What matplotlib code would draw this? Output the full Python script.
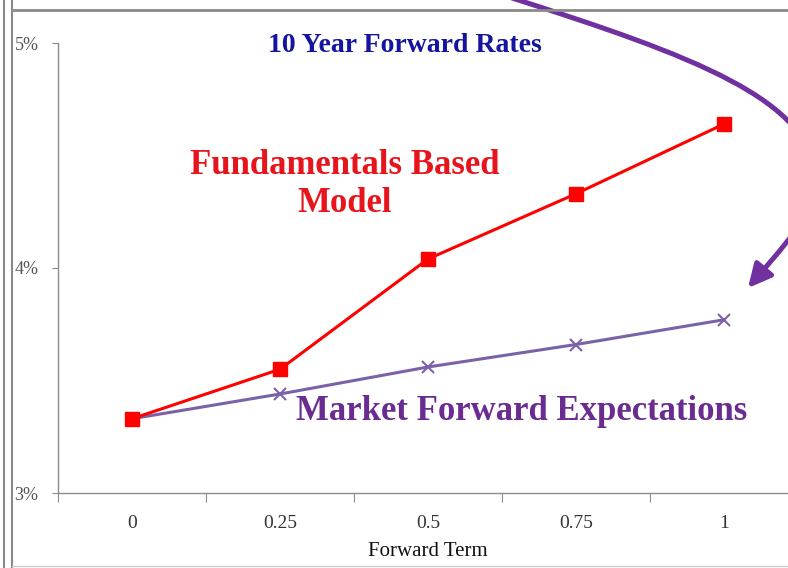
import matplotlib
matplotlib.use('Agg')
import matplotlib.pyplot as plt
from matplotlib.patches import FancyArrowPatch
from matplotlib.path import Path

terms = ['0', '0.25', '0.5', '0.75', '1']
fundamentals = [3.33, 3.55, 4.04, 4.33, 4.64]
market = [3.33, 3.44, 3.56, 3.66, 3.77]
y_ticks = [3, 4, 5]
y_labels = ['3%', '4%', '5%']

W, H = 788, 568
plt.rcParams['font.family'] = ['Liberation Serif', 'DejaVu Serif']

fig = plt.figure(figsize=(W / 100, H / 100), dpi=100)

# main plot area (extends a little past the right edge, like the cropped original)
ax = fig.add_axes([58 / W, 75 / H, 740 / W, 450 / H])
x = range(len(terms))
ax.plot(x, fundamentals, color='#ff0000', lw=2.2, marker='s', ms=9.5, zorder=4)
ax.plot(x, market, color='#7b62a8', lw=2.2, marker='x', ms=9, mew=1.5, zorder=3)

ax.set_xlim(-0.5, len(terms) - 0.5)
ax.set_ylim(3, 5)
for s in ['top', 'right']:
    ax.spines[s].set_visible(False)
for s in ['left', 'bottom']:
    ax.spines[s].set_color('#8c8c8c')
    ax.spines[s].set_linewidth(1)

ax.set_yticks(y_ticks)
ax.set_yticklabels(y_labels)
ax.tick_params(axis='y', length=4, color='#8c8c8c', pad=10, labelsize=13, labelcolor='#555555')

ax.set_xticks([i - 0.5 for i in range(len(terms) + 1)])
ax.set_xticklabels([])
ax.set_xticks(list(x), minor=True)
ax.set_xticklabels(terms, minor=True)
ax.tick_params(axis='x', which='major', length=6.5, color='#8c8c8c')
ax.tick_params(axis='x', which='minor', length=0, pad=16, labelsize=14, labelcolor='#333333')

# overlay in pixel coordinates for frame, notes and the big arrow
ov = fig.add_axes([0, 0, 1, 1], zorder=5)
ov.set_xlim(0, W)
ov.set_ylim(H, 0)
ov.axis('off')
ov.patch.set_alpha(0)

ov.plot([4, 4], [0, H], color='#8a8a8a', lw=1.5)
ov.plot([12, 12], [0, H], color='#8a8a8a', lw=1.5)
ov.plot([12, W], [10, 10], color='#8a8a8a', lw=2)
ov.plot([12, W], [566, 566], color='#d0d0d0', lw=1)

ov.text(405, 45, '10 Year Forward Rates', color='#1414a0', fontsize=20,
        fontweight='bold', ha='center', va='center')
ov.text(345, 184, 'Fundamentals Based\nModel', color='#e8141c', fontsize=25,
        fontweight='bold', ha='center', va='center', multialignment='center',
        linespacing=1.2)
ov.text(522, 411, 'Market Forward Expectations', color='#6a2c91', fontsize=25,
        fontweight='bold', ha='center', va='center')
ov.text(428, 551, 'Forward Term', color='#111111', fontsize=15,
        ha='center', va='center')

arrow_path = Path(
    [(512, -2), (690, 55), (815, 100), (815, 180),
     (815, 215), (780, 250), (748, 288)],
    [Path.MOVETO, Path.CURVE4, Path.CURVE4, Path.CURVE4,
     Path.CURVE4, Path.CURVE4, Path.CURVE4])
arrow = FancyArrowPatch(path=arrow_path, arrowstyle='-|>,head_length=14,head_width=7',
                        mutation_scale=1, color='#7030a0', lw=3.6,
                        transform=ov.transData, clip_on=False)
ov.add_patch(arrow)

fig.savefig('out.png', dpi=100)
